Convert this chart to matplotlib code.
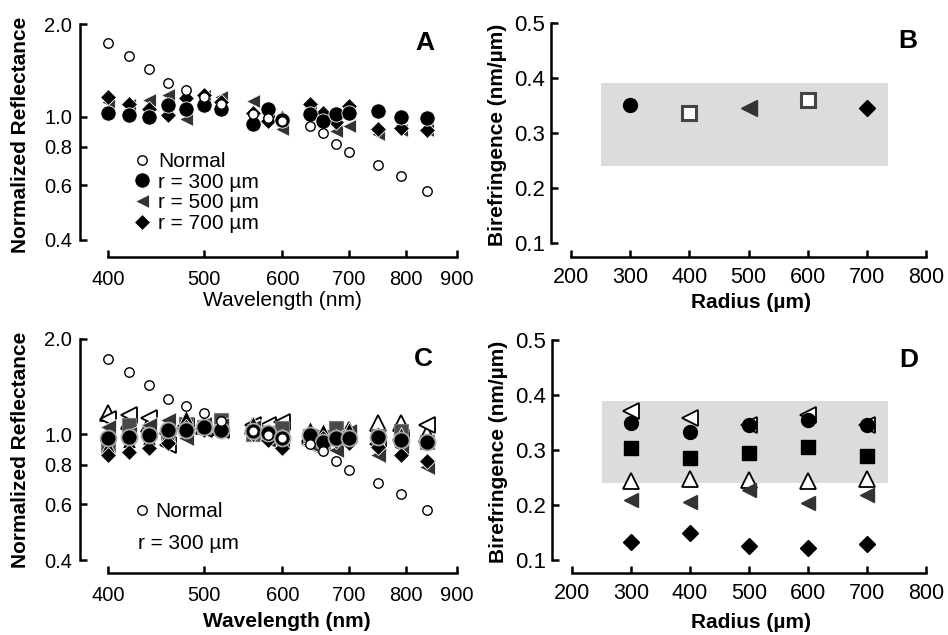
import matplotlib
matplotlib.use("Agg")
from matplotlib import pyplot as plt

plt.rcParams['font.family'] = ['Liberation Sans', 'DejaVu Sans']

# ---- data -------------------------------------------------------------
wavelength = [400, 420, 440, 460, 480, 500, 520, 560, 580, 600, 640, 660, 680, 700, 750, 790, 840]
normal = [1.735, 1.573, 1.426, 1.29, 1.226, 1.163, 1.10, 1.023, 0.995, 0.97,
          0.934, 0.886, 0.82, 0.77, 0.70, 0.645, 0.575]

# panel A
a_r300 = [1.033, 1.013, 1.002, 1.095, 1.06, 1.092, 1.06, 0.946, 1.065, 0.977,
          1.02, 0.97, 1.02, 1.03, 1.046, 1.0, 0.99]
a_r500 = [1.12, 1.09, 1.137, 1.18, 0.987, 1.17, 1.157, 1.123, 1.0, 0.911,
          1.06, 1.0, 0.90, 0.934, 0.88, 0.91, 0.91]
a_r700 = [1.157, 1.105, 1.06, 1.013, 1.152, 1.18, 1.12, 1.03, 0.97, 0.99,
          1.10, 1.03, 0.96, 1.085, 0.913, 0.92, 0.905]

# panel C (r = 300 um)
c_open_up = [1.165, 1.10, 1.08, 1.06, 1.10, 1.06, 1.05, 1.06, 1.03, 1.02,
             1.0, 0.99, 1.0, 1.03, 1.083, 1.083, 1.0]
c_open_left = [1.12, 1.151, 1.124, 0.925, 1.06, 1.04, 1.03, 1.07, 1.07, 1.096,
               0.93, 0.95, 0.97, 1.0, 0.93, 0.96, 1.07]
c_square = [0.903, 1.07, 1.02, 1.0, 1.08, 1.057, 1.11, 1.0, 1.01, 1.045,
            0.99, 0.98, 1.045, 0.99, 0.99, 1.02, 0.948]
c_dark_left = [1.057, 1.0, 1.07, 1.11, 0.971, 1.08, 1.07, 1.05, 0.96, 0.95,
               0.93, 0.94, 0.892, 1.02, 0.86, 0.91, 0.79]
c_black_up = [0.92, 0.95, 0.97, 1.0, 1.137, 1.06, 1.05, 1.083, 1.02, 0.99,
              1.045, 1.03, 0.99, 1.04, 1.01, 1.0, 0.96]
c_circle = [0.971, 0.983, 0.995, 1.03, 1.03, 1.057, 1.03, 1.02, 1.007, 0.971,
            0.995, 0.948, 0.971, 0.971, 0.983, 0.96, 0.948]
c_diamond = [0.86, 0.881, 0.903, 0.937, 1.05, 1.03, 1.03, 1.0, 0.96, 0.903,
             0.97, 0.97, 0.95, 0.94, 0.914, 0.86, 0.82]

# panel B
radius = [300, 400, 500, 600, 700]
b_biref = [0.351, 0.336, 0.345, 0.36, 0.345]

# panel D
d_open_left = [0.371, 0.358, 0.345, 0.364, 0.345]
d_circle = [0.350, 0.332, 0.345, 0.355, 0.345]
d_square = [0.304, 0.285, 0.295, 0.305, 0.289]
d_open_up = [0.244, 0.248, 0.245, 0.244, 0.248]
d_dark_left = [0.210, 0.205, 0.228, 0.204, 0.218]
d_diamond = [0.132, 0.149, 0.125, 0.121, 0.130]

band_x = [250, 735]
band_lo, band_hi = 0.24, 0.39

refl_ticks = [0.4, 0.6, 0.8, 1.0, 2.0]
wl_ticks = [400, 500, 600, 700, 800, 900]
bi_ticks = [0.1, 0.2, 0.3, 0.4, 0.5]
rad_ticks = [200, 300, 400, 500, 600, 700, 800]

DARK = '#333333'
GRAY_SQ = '#4a4a4a'
LABEL = 15

fig = plt.figure(figsize=(9.48, 6.35), dpi=100)
H = 635.0
W = 948.0


def make_axes(left, top, right, bottom):
    return fig.add_axes([left / W, (H - bottom) / H, (right - left) / W, (bottom - top) / H])


def style(ax, ysize, xsize, xpad, ypad):
    for s in ['top', 'right']:
        ax.spines[s].set_visible(False)
    for s in ['left', 'bottom']:
        ax.spines[s].set_linewidth(1.8)
    ax.tick_params(direction='in', length=5, width=1.8)
    ax.tick_params(axis='y', labelsize=ysize, pad=ypad)
    ax.tick_params(axis='x', labelsize=xsize, pad=xpad)


def refl_axes(ax):
    ax.set_xscale('log')
    ax.set_yscale('log')
    ax.set_xlim(375, 900)
    ax.set_xticks(wl_ticks)
    ax.set_xticklabels([str(t) for t in wl_ticks])
    ax.set_yticks(refl_ticks)
    ax.set_yticklabels(['%.1f' % t for t in refl_ticks])
    ax.minorticks_off()
    ax.spines['left'].set_bounds(0.4, 2.0)
    ax.spines['bottom'].set_bounds(400, 900)
    style(ax, 14.5, 14.5, 9.5, 5.5)


def biref_axes(ax):
    ax.set_xlim(166, 800)
    ax.set_xticks(rad_ticks)
    ax.set_yticks(bi_ticks)
    ax.set_yticklabels(['%.1f' % t for t in bi_ticks])
    ax.spines['left'].set_bounds(0.1, 0.5)
    ax.spines['bottom'].set_bounds(200, 800)
    style(ax, 16, 15.5, 7.5, 4)
    ax.fill_between(band_x, band_lo, band_hi, color='#dcdcdc', lw=0, zorder=0)


# ---- panel A ----------------------------------------------------------
axA = make_axes(80, 24, 457, 257)
axA.set_ylim(0.352, 2.0)
refl_axes(axA)
h500, = axA.plot(wavelength, a_r500, '<', ms=10.5, color=DARK, mec='white', mew=0.6, ls='none')
h700, = axA.plot(wavelength, a_r700, 'D', ms=8.5, color='black', mec='white', mew=0.6, ls='none')
h300, = axA.plot(wavelength, a_r300, 'o', ms=11, color='black', mec='white', mew=0.6, ls='none')
hn, = axA.plot(wavelength, normal, 'o', ms=6.8, mfc='white', mec='black', mew=1.0, ls='none')
axA.legend([hn, h300, h500, h700], ['Normal', 'r = 300 µm', 'r = 500 µm', 'r = 700 µm'],
           loc='center left', bbox_to_anchor=(0.139, 0.277), frameon=False, fontsize=15,
           handlelength=0.9, handletextpad=0.35, borderpad=0, borderaxespad=0, labelspacing=0.08)
axA.set_ylabel('Normalized Reflectance', fontsize=LABEL, fontweight='bold')
axA.yaxis.set_label_coords(-0.133, 0.525)
axA.set_xlabel('Wavelength (nm)', fontsize=LABEL)
axA.xaxis.set_label_coords(0.536, -0.145)
axA.text(0.915, 0.92, 'A', transform=axA.transAxes, fontsize=19, fontweight='bold',
         ha='center', va='center')

# ---- panel B ----------------------------------------------------------
axB = make_axes(551, 23, 926, 257)
axB.set_ylim(0.0745, 0.5)
biref_axes(axB)
b_styles = [dict(marker='o', ms=10, color='black', mec='black'),
            dict(marker='s', ms=10, mfc='white', mec='#444444', mew=2.2),
            dict(marker='<', ms=11, color=DARK, mec=DARK),
            dict(marker='s', ms=10, mfc='white', mec='#444444', mew=2.2),
            dict(marker='D', ms=8.5, color='black', mec='black')]
for x, y, st in zip(radius, b_biref, b_styles):
    axB.plot([x], [y], ls='none', **st)
axB.set_ylabel('Birefringence (nm/µm)', fontsize=LABEL, fontweight='bold')
axB.yaxis.set_label_coords(-0.117, 0.52)
axB.set_xlabel('Radius (µm)', fontsize=LABEL, fontweight='bold')
axB.xaxis.set_label_coords(0.533, -0.155)
axB.text(0.952, 0.925, 'B', transform=axB.transAxes, fontsize=19, fontweight='bold',
         ha='center', va='center')

# ---- panel C ----------------------------------------------------------
axC = make_axes(80, 339, 457, 573)
axC.set_ylim(0.364, 2.0)
refl_axes(axC)
axC.plot(wavelength, c_open_up, '^', ms=11.5, mfc='white', mec='black', mew=1.3, ls='none')
axC.plot(wavelength, c_open_left, '<', ms=11.5, mfc='white', mec='black', mew=1.3, ls='none')
axC.plot(wavelength, c_square, 's', ms=10.5, color=GRAY_SQ, mec='#777777', mew=0.8, ls='none')
axC.plot(wavelength, c_dark_left, '<', ms=11.5, color=DARK, mec='white', mew=0.6, ls='none')
axC.plot(wavelength, c_black_up, '^', ms=10.5, color='black', mec='white', mew=0.6, ls='none')
axC.plot(wavelength, c_diamond, 'D', ms=8.5, color='black', mec='white', mew=0.6, ls='none')
axC.plot(wavelength, c_circle, 'o', ms=11.5, color='black', mec='#aaaaaa', mew=1.3, ls='none')
hnc, = axC.plot(wavelength, normal, 'o', ms=6.8, mfc='white', mec='black', mew=1.0, ls='none')
axC.legend([hnc], ['Normal'], loc='center left', bbox_to_anchor=(0.139, 0.262), frameon=False,
           fontsize=15, handlelength=0.9, handletextpad=0.2, borderpad=0, borderaxespad=0)
axC.text(0.153, 0.124, 'r = 300 µm', transform=axC.transAxes, fontsize=15,
         ha='left', va='center')
axC.set_ylabel('Normalized Reflectance', fontsize=LABEL, fontweight='bold')
axC.yaxis.set_label_coords(-0.133, 0.525)
axC.set_xlabel('Wavelength (nm)', fontsize=LABEL, fontweight='bold')
axC.xaxis.set_label_coords(0.549, -0.165)
axC.text(0.912, 0.915, 'C', transform=axC.transAxes, fontsize=19, fontweight='bold',
         ha='center', va='center')

# ---- panel D ----------------------------------------------------------
axD = make_axes(552, 340, 926, 573)
axD.set_ylim(0.0764, 0.5)
biref_axes(axD)
axD.plot(radius, d_open_left, '<', ms=11, mfc='white', mec='black', mew=1.3, ls='none')
axD.plot(radius, d_circle, 'o', ms=10, color='black', ls='none')
axD.plot(radius, d_square, 's', ms=10, color='black', ls='none')
axD.plot(radius, d_open_up, '^', ms=12, mfc='white', mec='black', mew=1.3, ls='none')
axD.plot(radius, d_dark_left, '<', ms=10, color=DARK, ls='none')
axD.plot(radius, d_diamond, 'D', ms=8.5, color='black', ls='none')
axD.set_ylabel('Birefringence (nm/µm)', fontsize=LABEL, fontweight='bold')
axD.yaxis.set_label_coords(-0.117, 0.52)
axD.set_xlabel('Radius (µm)', fontsize=LABEL, fontweight='bold')
axD.xaxis.set_label_coords(0.533, -0.17)
axD.text(0.955, 0.915, 'D', transform=axD.transAxes, fontsize=19, fontweight='bold',
         ha='center', va='center')

fig.savefig('out.png', dpi=100)
